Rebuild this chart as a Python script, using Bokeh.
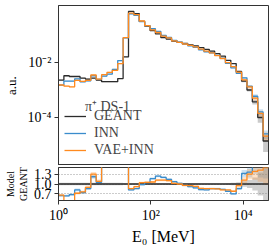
import numpy as np
from bokeh.plotting import figure
from bokeh.models import (Range1d, FixedTicker, CustomJSTickFormatter, Legend,
                          LegendItem, Label)
from bokeh.layouts import column
from bokeh.embed import file_html
from bokeh.resources import INLINE

# ---------------- data ----------------
LOG_E_MIN = 0.0
LOG_E_MAX = 4.55
N_BINS = 39

geant = [2.3e-3, 3.3e-3, 3.1e-3, 3.1e-3, 2.7e-3, 2.5e-3, 2.7e-3, 2.3e-3, 2.0e-3,
         2.0e-3, 2.0e-3, 2.6e-3, 1.6e-2, 0.72, 0.60, 0.31, 0.21, 0.145, 0.11,
         0.081, 0.071, 0.060, 0.054, 0.049, 0.044, 0.040, 0.035, 0.030, 0.026,
         0.021, 0.017, 0.012, 0.0091, 0.0047, 0.0021, 0.0010, 3.7e-4, 1.0e-4, 1.4e-5]

inn_ratio = [0.65, 0.64, 0.68, 0.82, 0.74, 0.86, 1.22, 1.05, 1.6, 1.9, 2.8, 4.5, 4.9,
             0.82, 0.86, 0.98, 1.04, 1.16, 1.24, 1.20, 1.14, 1.07, 1.02, 0.96, 0.92,
             0.88, 0.83, 0.82, 0.86, 0.86, 0.84, 0.78, 0.70, 0.86, 1.32, 1.36, 1.6,
             1.6, 1.8]

vae_ratio = [0.66, 0.42, 0.42, 0.72, 0.76, 0.90, 1.30, 1.08, 1.8, 2.2, 2.6, 3.5, 5.0,
             0.86, 0.92, 1.04, 1.05, 1.06, 1.12, 1.12, 1.10, 1.02, 1.00, 0.96, 0.95,
             0.93, 0.87, 0.86, 0.86, 0.85, 0.82, 0.82, 0.78, 0.95, 1.12, 1.30, 1.38,
             1.42, 1.50]

geant_relerr = [0.04, 0.04, 0.04, 0.04, 0.04, 0.04, 0.04, 0.04, 0.04, 0.04, 0.04, 0.04,
                0.03, 0.02, 0.02, 0.02, 0.02, 0.02, 0.02, 0.02, 0.02, 0.02, 0.02, 0.02,
                0.02, 0.02, 0.02, 0.02, 0.02, 0.02, 0.02, 0.03, 0.04, 0.05, 0.08, 0.12,
                0.20, 0.35, 0.60]
inn_relerr = [0.05, 0.05, 0.05, 0.05, 0.05, 0.05, 0.05, 0.05, 0.05, 0.05, 0.05, 0.05,
              0.05, 0.03, 0.03, 0.03, 0.03, 0.03, 0.03, 0.03, 0.03, 0.03, 0.03, 0.03,
              0.03, 0.03, 0.03, 0.03, 0.03, 0.03, 0.03, 0.03, 0.03, 0.05, 0.08, 0.12,
              0.18, 0.25, 0.35]
vae_relerr = [0.05, 0.05, 0.05, 0.05, 0.05, 0.05, 0.05, 0.05, 0.05, 0.05, 0.05, 0.05,
              0.05, 0.03, 0.03, 0.03, 0.03, 0.03, 0.03, 0.03, 0.03, 0.03, 0.03, 0.03,
              0.03, 0.03, 0.03, 0.03, 0.03, 0.03, 0.03, 0.03, 0.03, 0.05, 0.08, 0.12,
              0.18, 0.25, 0.35]

series_names = ["GEANT", "INN", "VAE+INN"]
legend_title = "π⁺ DS-1"
x_ticks = [1, 100, 10000]
y_ticks_main = [1e-4, 1e-2]
y_ticks_ratio = [0.7, 1.0, 1.3]

# ---------------- derived ----------------
edges = np.logspace(LOG_E_MIN, LOG_E_MAX, N_BINS + 1)
geant_a = np.array(geant)
inn_a = geant_a * np.array(inn_ratio)
vae_a = geant_a * np.array(vae_ratio)


def ext(a):
    a = np.asarray(a, dtype=float)
    return np.append(a, a[-1])


FONT = "Liberation Serif"
C_G = "#2b2b2b"
C_I = "#3a8ccc"
C_V = "#ff8a1f"
AX = "#333333"

sup_js = """
const m = {'-':'\u207b','0':'\u2070','1':'\u00b9','2':'\u00b2','3':'\u00b3','4':'\u2074','5':'\u2075','6':'\u2076','7':'\u2077','8':'\u2078','9':'\u2079'};
const e = Math.round(Math.log10(tick)).toString();
let s = '';
for (const c of e) s += m[c];
return '10' + s;
"""


def style(p):
    p.outline_line_color = AX
    p.outline_line_width = 1
    p.background_fill_color = "white"
    p.border_fill_color = "white"
    for ax in (p.xaxis, p.yaxis):
        ax.axis_line_color = AX
        ax.major_tick_line_color = AX
        ax.major_tick_out = 4
        ax.major_tick_in = 0
        ax.minor_tick_line_color = None
        ax.major_label_text_font = FONT
        ax.major_label_text_font_size = "14px"
        ax.major_label_text_color = "black"
        ax.major_label_standoff = 3
        ax.axis_label_text_font = FONT
        ax.axis_label_text_font_style = "normal"
        ax.axis_label_text_color = "black"
    p.xgrid.visible = False


# ---------------- main panel ----------------
p1 = figure(width=272, height=165, x_axis_type="log", y_axis_type="log",
            x_range=Range1d(edges[0], edges[-1]), y_range=Range1d(1.8e-6, 1.18),
            output_backend="svg", toolbar_location=None,
            min_border_left=52, min_border_right=4, min_border_top=5, min_border_bottom=0)
style(p1)
p1.ygrid.visible = False
p1.xaxis.visible = False
p1.yaxis.ticker = FixedTicker(ticks=y_ticks_main)
p1.yaxis.formatter = CustomJSTickFormatter(code=sup_js)
p1.yaxis.axis_label = "a.u."
p1.yaxis.axis_label_text_font_size = "13px"
p1.yaxis.axis_label_standoff = 6

rends = []
for vals, rel, col in ((geant_a, geant_relerr, C_G), (inn_a, inn_relerr, C_I), (vae_a, vae_relerr, C_V)):
    rel = np.array(rel)
    p1.varea_step(x=edges, y1=ext(vals * (1 - rel)), y2=ext(vals * (1 + rel)),
                  step_mode="after", fill_color=col, fill_alpha=0.25)
for vals, col in ((geant_a, C_G), (inn_a, C_I), (vae_a, C_V)):
    r = p1.step(x=edges, y=ext(vals), mode="after", line_color=col, line_width=1.3)
    rends.append(r)

legend = Legend(items=[LegendItem(label=n, renderers=[r]) for n, r in zip(series_names, rends)],
                location=(6, 7), padding=0, margin=0, border_line_color=None,
                background_fill_alpha=0, glyph_width=22, glyph_height=14,
                label_standoff=8, spacing=1, label_height=14,
                label_text_font=FONT, label_text_font_size="14px")
p1.add_layout(legend)
p1.add_layout(Label(x=49, y=59, x_units="screen", y_units="screen", text=legend_title,
                    text_align="center", text_baseline="middle", text_font=FONT,
                    text_font_size="14px"))

# ---------------- ratio panel ----------------
p2 = figure(width=272, height=82, x_axis_type="log", x_range=p1.x_range,
            y_range=Range1d(0.5, 1.5), output_backend="svg", toolbar_location=None,
            min_border_left=52, min_border_right=4, min_border_top=2, min_border_bottom=40)
style(p2)
p2.xaxis.ticker = FixedTicker(ticks=x_ticks)
p2.xaxis.formatter = CustomJSTickFormatter(code=sup_js)
p2.xaxis.axis_label = "E₀ [MeV]"
p2.xaxis.axis_label_text_font_size = "16px"
p2.xaxis.axis_label_standoff = 2
p2.yaxis.ticker = FixedTicker(ticks=y_ticks_ratio)
p2.yaxis.formatter = CustomJSTickFormatter(code="return tick.toFixed(1);")
p2.yaxis.axis_label = "Model\nGEANT"
p2.yaxis.axis_label_text_font_size = "10px"
p2.yaxis.axis_label_standoff = 2
p2.ygrid.grid_line_color = "#999999"
p2.ygrid.grid_line_dash = "1 2"
p2.ygrid.grid_line_width = 1

ones = np.ones(N_BINS)
g_rel = np.array(geant_relerr)
p2.varea_step(x=edges, y1=ext(ones - g_rel), y2=ext(ones + g_rel), step_mode="after",
              fill_color="#888888", fill_alpha=0.4)
for ratio, rel, col in ((inn_ratio, inn_relerr, C_I), (vae_ratio, vae_relerr, C_V)):
    ratio = np.array(ratio)
    rel = np.array(rel)
    p2.varea_step(x=edges, y1=ext(ratio * (1 - rel)), y2=ext(ratio * (1 + rel)),
                  step_mode="after", fill_color=col, fill_alpha=0.25)
p2.step(x=edges, y=ext(ones), mode="after", line_color=C_G, line_width=1.3)
p2.step(x=edges, y=ext(inn_ratio), mode="after", line_color=C_I, line_width=1.3)
p2.step(x=edges, y=ext(vae_ratio), mode="after", line_color=C_V, line_width=1.3)

layout = column(p1, p2, spacing=0)
open("out.html", "w").write(file_html(layout, INLINE))
